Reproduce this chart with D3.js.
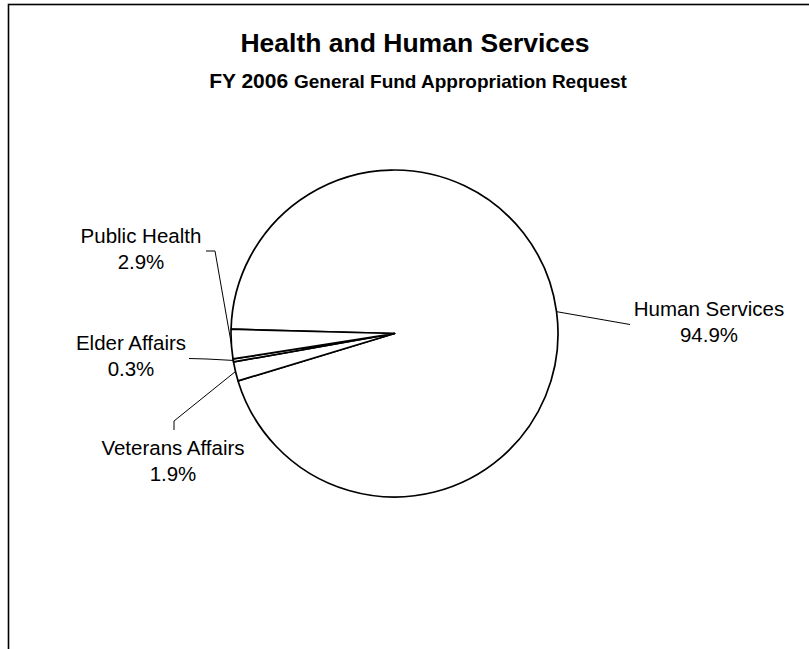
<!DOCTYPE html>
<html>
<head>
<meta charset="utf-8">
<script src="https://cdn.jsdelivr.net/npm/d3@7"></script>
<style>
  html, body { margin: 0; padding: 0; background: #fff; }
  svg { display: block; }
  text { font-family: "Liberation Sans", Arial, sans-serif; fill: #000; }
</style>
</head>
<body>
<svg id="chart" width="809" height="649"></svg>
<script>
// Health and Human Services, FY 2006 General Fund appropriation request by division
const categories = ["Human Services", "Veterans Affairs", "Elder Affairs", "Public Health"];
const shares = [94.9, 1.9, 0.3, 2.9];

const title = "Health and Human Services";
const subtitleLead = "FY 2006";
const subtitleRest = "General Fund Appropriation Request";

// Label placement: text centre / first baseline, and the elbow of each leader line
const labelLayout = {
  "Human Services":   { tx: 709, ty: 316, path: [[630, 324.5]] },
  "Public Health":    { tx: 141, ty: 243, path: [[215, 251], [206, 251]] },
  "Elder Affairs":    { tx: 131, ty: 350, path: [[207, 359], [189, 358.5]] },
  "Veterans Affairs": { tx: 173, ty: 455, path: [[174, 421], [174, 430]] }
};

const svg = d3.select("#chart");

// chart area frame (only top and left edges fall inside the view)
svg.append("rect")
  .attr("x", 8.5).attr("y", 4.5)
  .attr("width", 900).attr("height", 800)
  .attr("fill", "#fff").attr("stroke", "#000").attr("stroke-width", 1.6);

// titles
svg.append("text")
  .attr("x", 415).attr("y", 52)
  .attr("text-anchor", "middle")
  .attr("font-size", 26.5).attr("font-weight", "bold")
  .text(title);

const sub = svg.append("text")
  .attr("x", 418).attr("y", 87.5)
  .attr("text-anchor", "middle")
  .attr("font-weight", "bold");
sub.append("tspan").attr("font-size", 21).text(subtitleLead + " ");
sub.append("tspan").attr("font-size", 19).text(subtitleRest);

// pie
const cx = 394.5, cy = 333.5, r = 163.5;
const start = 271.5 * Math.PI / 180;

const pie = d3.pie().sort(null).value(d => d)
  .startAngle(start).endAngle(start + 2 * Math.PI);
const arcs = pie(shares);
const arc = d3.arc().innerRadius(0).outerRadius(r);

const g = svg.append("g").attr("transform", `translate(${cx},${cy})`);
g.selectAll("path.slice")
  .data(arcs)
  .join("path")
  .attr("class", "slice")
  .attr("d", arc)
  .attr("fill", "#fff")
  .attr("stroke", "#000")
  .attr("stroke-width", 1.7)
  .attr("stroke-linejoin", "round");

// leader lines and labels
const fmt = d3.format(".1f");
arcs.forEach((a, i) => {
  const name = categories[i];
  const L = labelLayout[name];
  const mid = (a.startAngle + a.endAngle) / 2;
  const p0 = [cx + r * Math.sin(mid), cy - r * Math.cos(mid)];
  const pts = [p0].concat(L.path);
  svg.append("path")
    .attr("d", d3.line()(pts))
    .attr("fill", "none")
    .attr("stroke", "#000")
    .attr("stroke-width", 1);

  const t = svg.append("text")
    .attr("text-anchor", "middle")
    .attr("font-size", 20.5);
  t.append("tspan").attr("x", L.tx).attr("y", L.ty).text(name);
  t.append("tspan").attr("x", L.tx).attr("y", L.ty + 26).text(fmt(shares[i]) + "%");
});
</script>
</body>
</html>
